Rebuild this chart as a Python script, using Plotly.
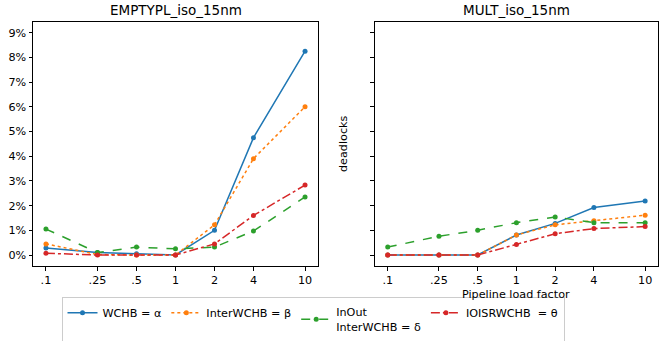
import plotly.graph_objects as go

x_vals = [0.1, 0.25, 0.5, 1, 2, 4, 10]
x_labels = [".1", ".25", ".5", "1", "2", "4", "10"]

series_names = ["WCHB = α", "InterWCHB = β", "InOut<br>InterWCHB = δ", "IOISRWCHB  = θ"]
colors = ["#1f77b4", "#ff7f0e", "#2ca02c", "#d62728"]
dashes = ["solid", "dot", "dash", "dashdot"]

# values in percent
empty_wchb = [0.28, 0.10, 0.05, 0.0, 1.0, 4.75, 8.25]
empty_inter = [0.45, 0.02, 0.0, 0.0, 1.22, 3.9, 6.0]
empty_inout = [1.05, 0.10, 0.32, 0.25, 0.32, 0.97, 2.35]
empty_ioisr = [0.07, 0.0, 0.0, 0.0, 0.45, 1.6, 2.83]

mult_wchb = [0.0, 0.0, 0.0, 0.81, 1.28, 1.92, 2.19]
mult_inter = [0.0, 0.0, 0.0, 0.81, 1.22, 1.39, 1.61]
mult_inout = [0.32, 0.76, 1.0, 1.31, 1.54, 1.31, 1.31]
mult_ioisr = [0.0, 0.0, 0.0, 0.43, 0.86, 1.07, 1.15]

left_data = [empty_wchb, empty_inter, empty_inout, empty_ioisr]
right_data = [mult_wchb, mult_inter, mult_inout, mult_ioisr]

y_ticks = [0, 1, 2, 3, 4, 5, 6, 7, 8, 9]
y_tick_labels = [f"{v}%" for v in y_ticks]

fig = go.Figure()
for i in range(4):
    fig.add_trace(go.Scatter(
        x=x_vals, y=left_data[i], name=series_names[i], mode="lines+markers",
        line=dict(color=colors[i], width=1.5, dash=dashes[i]),
        marker=dict(color=colors[i], size=5), xaxis="x", yaxis="y",
        legendgroup=str(i)))
for i in range(4):
    fig.add_trace(go.Scatter(
        x=x_vals, y=right_data[i], name=series_names[i], mode="lines+markers",
        line=dict(color=colors[i], width=1.5, dash=dashes[i]),
        marker=dict(color=colors[i], size=5), xaxis="x2", yaxis="y2",
        legendgroup=str(i), showlegend=False))

TICK_FONT = 11.2
TITLE_FONT = 13.5
axis_common = dict(showgrid=False, zeroline=False, showline=True, linecolor="black",
                   linewidth=1, mirror=True, ticks="outside", ticklen=3.5,
                   tickcolor="black", tickfont=dict(size=TICK_FONT, color="black"))

yrange = [-0.445, 9.43]
xrange_ = [-1.1, 1.1]

fig.update_layout(
    width=659, height=341,
    margin=dict(l=33, r=1, t=22, b=75, autoexpand=False),
    paper_bgcolor="white", plot_bgcolor="white",
    font=dict(family="DejaVu Sans", size=TICK_FONT, color="black"),
    xaxis=dict(domain=[0, 0.456], type="log", range=xrange_, tickvals=x_vals,
               ticktext=x_labels, **axis_common),
    yaxis=dict(range=yrange, tickvals=y_ticks, ticktext=y_tick_labels, **axis_common),
    xaxis2=dict(domain=[0.547, 1], type="log", range=xrange_, tickvals=x_vals,
                ticktext=x_labels, anchor="y2", **axis_common),
    yaxis2=dict(range=yrange, tickvals=y_ticks, showticklabels=False, anchor="x2",
                **axis_common),
    legend=dict(orientation="h", x=0.448, xanchor="center", y=-0.128, yanchor="top",
                bordercolor="#cccccc", borderwidth=1, font=dict(size=TICK_FONT),
                traceorder="normal", itemwidth=30, tracegroupgap=0),
    showlegend=True,
    annotations=[
        dict(text="EMPTYPL_iso_15nm", x=0.228, y=1.0, xref="paper", yref="paper",
             xanchor="center", yanchor="bottom", yshift=2, showarrow=False,
             font=dict(size=TITLE_FONT)),
        dict(text="MULT_iso_15nm", x=0.7735, y=1.0, xref="paper", yref="paper",
             xanchor="center", yanchor="bottom", yshift=2, showarrow=False,
             font=dict(size=TITLE_FONT)),
        dict(text="deadlocks", x=0.496, y=0.5, xref="paper", yref="paper",
             xanchor="center", yanchor="middle", textangle=-90, showarrow=False,
             font=dict(size=TICK_FONT)),
        dict(text="Pipeline load factor", x=0.7735, y=-0.08, xref="paper", yref="paper",
             xanchor="center", yanchor="top", showarrow=False, font=dict(size=TICK_FONT)),
    ],
)

fig.write_html("out.html", config={"displayModeBar": False},
               post_script="document.body.style.margin='0';document.body.style.overflow='hidden';")
